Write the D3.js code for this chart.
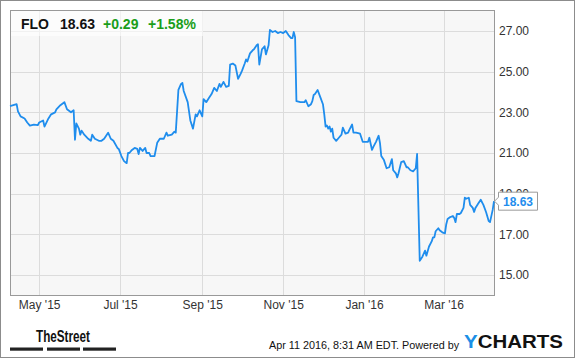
<!DOCTYPE html>
<html><head><meta charset="utf-8">
<script src="https://cdn.jsdelivr.net/npm/d3@7"></script>
<style>html,body{margin:0;padding:0;background:#fff;}svg{display:block;font-family:"Liberation Sans",Arial,sans-serif;}</style>
</head><body>
<svg id="c" width="575" height="358"></svg>
<script>
const ticker = "FLO";
const lastPrice = "18.63";
const change = "+0.29";
const changePct = "+1.58%";
const yTicks = [15, 17, 19, 21, 23, 25, 27];
const xTicks = ["2015-05-01","2015-07-01","2015-09-01","2015-11-01","2016-01-01","2016-03-01"];
const dates = [
"2015-04-09","2015-04-14","2015-04-15","2015-04-17","2015-04-20","2015-04-22","2015-04-24","2015-04-27","2015-04-30",
"2015-05-01","2015-05-04","2015-05-05","2015-05-08","2015-05-10","2015-05-13","2015-05-14","2015-05-17","2015-05-20","2015-05-22","2015-05-25","2015-05-27","2015-05-28","2015-05-29","2015-05-31",
"2015-06-01","2015-06-02","2015-06-04","2015-06-07","2015-06-09","2015-06-10","2015-06-12","2015-06-15","2015-06-17","2015-06-19","2015-06-22","2015-06-24","2015-06-26","2015-06-29","2015-06-30",
"2015-07-02","2015-07-04","2015-07-06","2015-07-07","2015-07-08","2015-07-10","2015-07-12","2015-07-14","2015-07-15","2015-07-16","2015-07-18","2015-07-20","2015-07-21","2015-07-23","2015-07-24","2015-07-27","2015-07-29","2015-07-31",
"2015-08-03","2015-08-05","2015-08-06","2015-08-09","2015-08-11","2015-08-12","2015-08-14","2015-08-16","2015-08-17","2015-08-18","2015-08-21","2015-08-23","2015-08-25","2015-08-27","2015-08-28","2015-08-30",
"2015-09-01","2015-09-02","2015-09-04","2015-09-06","2015-09-07","2015-09-08","2015-09-10","2015-09-12","2015-09-14","2015-09-15","2015-09-17","2015-09-19","2015-09-21","2015-09-22","2015-09-24","2015-09-26","2015-09-28","2015-09-30",
"2015-10-01","2015-10-03","2015-10-04","2015-10-05","2015-10-07","2015-10-09","2015-10-10","2015-10-12","2015-10-13","2015-10-14","2015-10-16","2015-10-18","2015-10-19","2015-10-21","2015-10-22","2015-10-24","2015-10-26","2015-10-28","2015-10-30",
"2015-11-01","2015-11-03","2015-11-05","2015-11-07","2015-11-08","2015-11-09","2015-11-10","2015-11-11","2015-11-14","2015-11-17","2015-11-18","2015-11-20","2015-11-22","2015-11-23","2015-11-24","2015-11-25","2015-11-27","2015-11-29",
"2015-12-01","2015-12-02","2015-12-03","2015-12-04","2015-12-05","2015-12-06","2015-12-07","2015-12-08","2015-12-09","2015-12-11","2015-12-13","2015-12-15","2015-12-16","2015-12-18","2015-12-20","2015-12-21","2015-12-23","2015-12-24","2015-12-26","2015-12-29","2015-12-31",
"2016-01-03","2016-01-04","2016-01-05","2016-01-07","2016-01-08","2016-01-10","2016-01-12","2016-01-13","2016-01-14","2016-01-16","2016-01-18","2016-01-20","2016-01-22","2016-01-23","2016-01-25","2016-01-26","2016-01-27","2016-01-29","2016-01-31",
"2016-02-02","2016-02-03","2016-02-05","2016-02-07","2016-02-09","2016-02-10","2016-02-12","2016-02-14","2016-02-16","2016-02-17","2016-02-19","2016-02-21","2016-02-22","2016-02-23","2016-02-24","2016-02-26","2016-02-27","2016-02-29",
"2016-03-02","2016-03-03","2016-03-04","2016-03-06","2016-03-08","2016-03-09","2016-03-10","2016-03-11","2016-03-13","2016-03-14","2016-03-16","2016-03-17","2016-03-18","2016-03-20","2016-03-21","2016-03-23","2016-03-24","2016-03-25","2016-03-27","2016-03-29","2016-03-31",
"2016-04-02","2016-04-04","2016-04-05","2016-04-07","2016-04-08"
];
const prices = [
23.3,23.4,23.05,22.8,22.7,22.5,22.35,22.4,22.37,
22.5,22.6,22.3,22.7,22.9,23.0,23.15,23.35,23.5,23.15,23.0,23.1,21.65,22.45,22.2,
21.9,22.1,21.9,21.7,21.6,21.9,21.7,21.6,21.6,21.7,22.0,21.7,21.6,21.25,21.2,
20.85,20.6,20.5,21.0,21.0,21.15,21.25,21.2,20.95,21.25,21.1,21.25,21.0,21.0,20.85,20.85,21.5,21.7,
21.7,22.0,21.85,21.9,22.05,22.0,24.1,24.4,24.45,24.05,23.5,22.6,22.2,22.9,22.8,23.1,
22.8,23.65,23.5,23.7,23.8,23.9,24.2,24.05,24.4,24.25,24.5,24.25,24.3,25.35,25.4,25.3,24.65,24.9,
25.05,25.4,25.6,25.5,25.9,26.05,26.1,26.3,26.35,25.35,26.1,26.25,25.85,26.3,27.05,26.95,27.0,26.9,26.95,
26.9,27.0,26.8,26.65,26.65,26.95,26.7,23.55,23.5,23.5,23.6,23.3,23.4,23.55,23.85,23.9,24.1,23.75,
23.4,22.9,22.3,22.35,22.2,22.3,22.05,22.2,21.75,21.6,21.75,21.9,22.25,21.95,22.0,22.15,22.4,22.0,22.0,21.95,21.55,
21.55,21.55,21.75,21.15,21.3,21.55,21.85,21.5,20.85,20.65,20.25,20.3,20.7,20.15,20.0,19.8,20.0,20.55,20.6,
20.3,20.3,20.15,20.1,20.25,20.95,15.7,15.9,16.2,15.95,16.4,16.65,16.85,16.85,17.15,17.3,17.2,17.1,
17.05,17.5,17.75,17.85,17.9,17.8,17.6,18.0,18.0,18.05,18.3,18.8,18.75,18.8,18.45,18.3,18.1,18.3,18.5,18.7,18.45,
18.1,17.65,17.6,18.2,18.63
];

const parse = d3.timeParse("%Y-%m-%d");
const data = dates.map((d, i) => ({date: parse(d), value: prices[i]}));

const svg = d3.select("#c");
const L = 10, R = 494, T = 10, B = 295;

svg.append("rect").attr("x", 0.5).attr("y", 0.5).attr("width", 574).attr("height", 357)
  .attr("fill", "#fff").attr("stroke", "#8c8c8c");

const x = d3.scaleTime().domain([parse("2015-04-09"), parse("2016-04-08")]).range([L, R]);
const y = d3.scaleLinear().domain([14.016, 28.033]).range([B, T]);

svg.append("rect").attr("x", L + 0.5).attr("y", T + 0.5).attr("width", R - L).attr("height", B - T)
  .attr("fill", "#f7f7f7");

const grid = svg.append("g");
grid.selectAll(".hy").data(yTicks).join("line")
  .attr("x1", L).attr("x2", R)
  .attr("y1", d => Math.round(y(d)) + 0.5).attr("y2", d => Math.round(y(d)) + 0.5)
  .attr("stroke", "#dcdcdc");
grid.selectAll(".vx").data(xTicks).join("line")
  .attr("y1", T).attr("y2", B)
  .attr("x1", d => Math.round(x(parse(d))) + 0.5).attr("x2", d => Math.round(x(parse(d))) + 0.5)
  .attr("stroke", "#dcdcdc");

svg.append("rect").attr("x", L + 0.5).attr("y", T + 0.5).attr("width", R - L).attr("height", B - T)
  .attr("fill", "none").attr("stroke", "#999");

// y axis labels
const yAxis = d3.axisRight(y).tickValues(yTicks).tickFormat(d3.format(".2f")).tickSize(0).tickPadding(0);
const ya = svg.append("g").attr("transform", `translate(${R + 5},0)`).call(yAxis);
ya.select(".domain").remove();
ya.selectAll("text").attr("font-size", 12).attr("fill", "#333").attr("font-family", "Liberation Sans, Arial, sans-serif");

// x axis labels
const xAxis = d3.axisBottom(x).tickValues(xTicks.map(parse)).tickFormat(d3.timeFormat("%b '%y")).tickSize(0).tickPadding(0);
const xa = svg.append("g").attr("transform", `translate(0,${B + 5})`).call(xAxis);
xa.select(".domain").remove();
xa.selectAll("text").attr("font-size", 12).attr("fill", "#333").attr("font-family", "Liberation Sans, Arial, sans-serif");

// line
const line = d3.line().x(d => x(d.date)).y(d => y(d.value));
svg.append("path").datum(data).attr("d", line)
  .attr("fill", "none").attr("stroke", "#1f8ded").attr("stroke-width", 1.8).attr("stroke-linejoin", "round");

// header box
svg.append("rect").attr("x", L + 1).attr("y", T + 1).attr("width", 192).attr("height", 25)
  .attr("fill", "#fff").attr("fill-opacity", 0.6);
const hdr = svg.append("text").attr("y", 28.5).attr("font-size", 14).attr("font-weight", "bold");
hdr.append("tspan").attr("x", 21).attr("fill", "#111").text(ticker);
hdr.append("tspan").attr("x", 60).attr("fill", "#111").text(lastPrice);
hdr.append("tspan").attr("x", 103).attr("fill", "#1a9e1a").text(change);
hdr.append("tspan").attr("x", 148).attr("fill", "#1a9e1a").text(changePct);

// last price label
const last = data[data.length - 1];
const lx = x(last.date), ly = y(last.value);
const bx = lx + 4, bw = 39, bh = 18;
svg.append("path")
  .attr("d", `M${lx + 0.5},${ly} L${bx + 0.5},${ly - 4} L${bx + 0.5},${ly - bh / 2} L${bx + bw + 0.5},${ly - bh / 2} L${bx + bw + 0.5},${ly + bh / 2} L${bx + 0.5},${ly + bh / 2} L${bx + 0.5},${ly + 4} Z`)
  .attr("fill", "#fff").attr("stroke", "#9a9a9a");
svg.append("text").attr("x", bx + 5).attr("y", ly + 4.5).attr("font-size", 12).attr("font-weight", "bold")
  .attr("fill", "#1f8ded").text(d3.format(".2f")(last.value));

// footer: TheStreet logo
svg.append("text").attr("x", 36).attr("y", 341.5).attr("font-size", 16).attr("font-weight", "bold")
  .attr("font-family", "Liberation Sans Narrow, Liberation Sans, Arial, sans-serif")
  .attr("textLength", 54).attr("lengthAdjust", "spacingAndGlyphs").attr("fill", "#111").text("TheStreet");
[[10, 33], [47, 33], [83, 33]].forEach(([sx, w]) => {
  svg.append("rect").attr("x", sx).attr("y", 347.5).attr("width", w).attr("height", 3.2).attr("fill", "#222");
});

// footer text
svg.append("text").attr("x", 269).attr("y", 348.5).attr("font-size", 10.8).attr("fill", "#111")
  .text("Apr 11 2016, 8:31 AM EDT. Powered by");
const yc = svg.append("text").attr("x", 464).attr("y", 348).attr("font-size", 18.5).attr("font-weight", "bold")
  .attr("textLength", 99).attr("lengthAdjust", "spacingAndGlyphs");
yc.append("tspan").attr("fill", "#1b8fe6").text("Y");
yc.append("tspan").attr("fill", "#111").text("CHARTS");
</script>
</body></html>
